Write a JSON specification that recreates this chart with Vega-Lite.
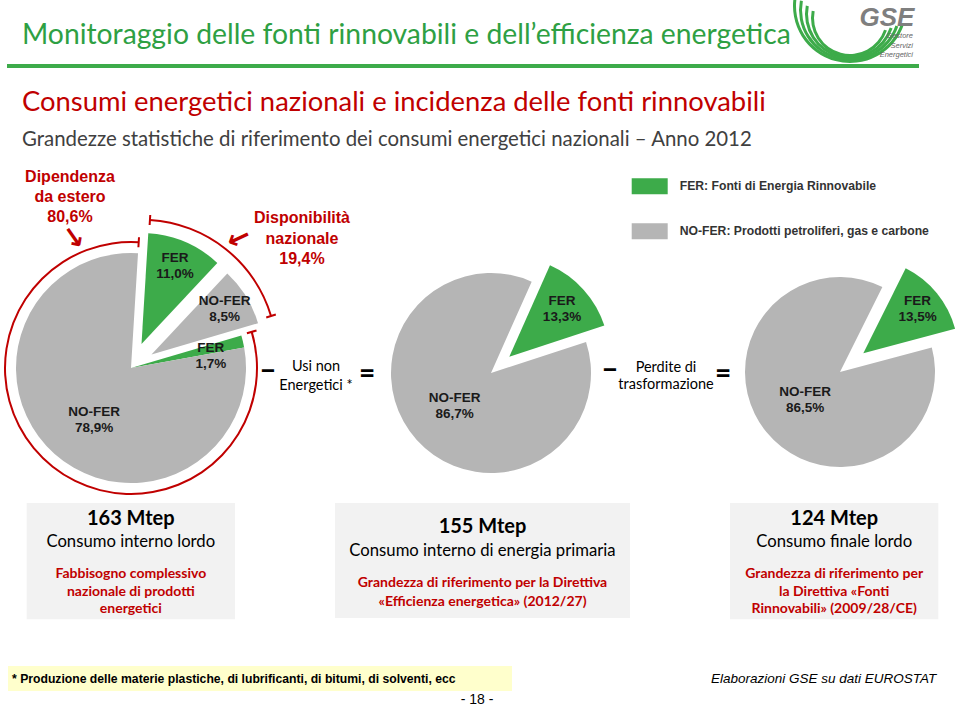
{
  "$schema": "https://vega.github.io/schema/vega-lite/v6.json",
  "width": 960,
  "height": 710,
  "autosize": {"type": "none"},
  "padding": 0,
  "background": "white",
  "config": {
    "view": {"stroke": null},
    "axis": {"disable": true},
    "text": {"font": "Liberation Sans"}
  },
  "datasets": {
    "torte": [
      {"torta": "lordo", "fonte": "FER", "provenienza": "nazionale", "quota": 11.0, "ordine": 1},
      {"torta": "lordo", "fonte": "NO-FER", "provenienza": "nazionale", "quota": 8.5, "ordine": 2},
      {"torta": "lordo", "fonte": "FER", "provenienza": "estero", "quota": 1.7, "ordine": 3},
      {"torta": "lordo", "fonte": "NO-FER", "provenienza": "estero", "quota": 78.9, "ordine": 4},
      {"torta": "primaria", "fonte": "FER", "provenienza": "", "quota": 13.3, "ordine": 1},
      {"torta": "primaria", "fonte": "NO-FER", "provenienza": "", "quota": 86.7, "ordine": 2},
      {"torta": "finale", "fonte": "FER", "provenienza": "", "quota": 13.5, "ordine": 1},
      {"torta": "finale", "fonte": "NO-FER", "provenienza": "", "quota": 86.5, "ordine": 2}
    ],
    "provenienza": [
      {"provenienza": "nazionale", "nome": "Disponibilità\nnazionale", "quota": 19.4, "ordine": 1},
      {"provenienza": "estero", "nome": "Dipendenza\nda estero", "quota": 80.6, "ordine": 2}
    ],
    "riquadri": [
      {"stadio": "lordo", "mtep": 163, "nome": "Consumo interno lordo", "nota": "Fabbisogno complessivo\nnazionale di prodotti\nenergetici"},
      {"stadio": "primaria", "mtep": 155, "nome": "Consumo interno di energia primaria", "nota": "Grandezza di riferimento per la Direttiva\n«Efficienza energetica» (2012/27)"},
      {"stadio": "finale", "mtep": 124, "nome": "Consumo finale lordo", "nota": "Grandezza di riferimento per\nla Direttiva «Fonti\nRinnovabili» (2009/28/CE)"}
    ]
  },
  "resolve": {"scale": {"theta": "independent"}},
  "layer": [
    {
      "data": {"values": [{}]},
      "layer": [
        {"mark": {"type": "text", "text": "Monitoraggio delle fonti rinnovabili e dell’efficienza energetica", "align": "left", "baseline": "middle", "font": "Lato", "fontSize": 28.3, "color": "#2ea043"},
         "encoding": {"x": {"datum": 22, "type": "quantitative", "scale": {"domain": [0, 960], "nice": false, "zero": false}}, "y": {"datum": 36, "type": "quantitative", "scale": {"domain": [0, 710], "reverse": true, "nice": false, "zero": false}}}},
        {"mark": {"type": "rule", "color": "#3dab4a", "strokeWidth": 4},
         "encoding": {"x": {"datum": 7, "type": "quantitative"}, "x2": {"datum": 919}, "y": {"datum": 66, "type": "quantitative"}}},
        {"mark": {"type": "arc", "innerRadius": 36, "outerRadius": 39, "theta": 1.9, "theta2": 4.9, "color": "#3dab4a"},
         "encoding": {"x": {"datum": 850, "type": "quantitative"}, "y": {"datum": 18, "type": "quantitative"}}},
        {"mark": {"type": "arc", "innerRadius": 42, "outerRadius": 45, "theta": 1.9, "theta2": 4.9, "color": "#3dab4a"},
         "encoding": {"x": {"datum": 850, "type": "quantitative"}, "y": {"datum": 14, "type": "quantitative"}}},
        {"mark": {"type": "arc", "innerRadius": 48, "outerRadius": 51, "theta": 1.9, "theta2": 4.9, "color": "#3dab4a"},
         "encoding": {"x": {"datum": 850, "type": "quantitative"}, "y": {"datum": 10, "type": "quantitative"}}},
        {"mark": {"type": "arc", "innerRadius": 54, "outerRadius": 57, "theta": 1.9, "theta2": 4.9, "color": "#3dab4a"},
         "encoding": {"x": {"datum": 850, "type": "quantitative"}, "y": {"datum": 6, "type": "quantitative"}}},
        {"mark": {"type": "text", "text": "GSE", "align": "center", "baseline": "middle", "font": "Liberation Sans", "fontWeight": "bold", "fontStyle": "italic", "fontSize": 26, "color": "#7f7f7f"},
         "encoding": {"x": {"datum": 887, "type": "quantitative"}, "y": {"datum": 18, "type": "quantitative"}}},
        {"mark": {"type": "text", "text": "Gestore\nServizi\nEnergetici", "lineBreak": "\n", "lineHeight": 9.5, "align": "right", "baseline": "middle", "font": "Liberation Sans", "fontStyle": "italic", "fontSize": 7.5, "color": "#666666"},
         "encoding": {"x": {"datum": 913, "type": "quantitative"}, "y": {"datum": 36, "type": "quantitative"}}},
        {"mark": {"type": "text", "text": "Consumi energetici nazionali e incidenza delle fonti rinnovabili", "align": "left", "baseline": "middle", "font": "Lato", "fontSize": 27.4, "color": "#c00000"},
         "encoding": {"x": {"datum": 22, "type": "quantitative"}, "y": {"datum": 103, "type": "quantitative"}}},
        {"mark": {"type": "text", "text": "Grandezze statistiche di riferimento dei consumi energetici nazionali – Anno 2012", "align": "left", "baseline": "middle", "font": "Lato", "fontSize": 20.4, "color": "#404040"},
         "encoding": {"x": {"datum": 22, "type": "quantitative"}, "y": {"datum": 140, "type": "quantitative"}}},
        {"mark": {"type": "text", "text": "–", "align": "center", "baseline": "middle", "font": "Lato", "fontWeight": "bold", "fontSize": 30, "color": "#000000"},
         "encoding": {"x": {"datum": 268, "type": "quantitative"}, "y": {"datum": 371, "type": "quantitative"}}},
        {"mark": {"type": "text", "text": "Usi non\nEnergetici *", "lineBreak": "\n", "lineHeight": 19, "align": "center", "baseline": "middle", "font": "Lato", "fontSize": 14.5, "color": "#000000"},
         "encoding": {"x": {"datum": 316, "type": "quantitative"}, "y": {"datum": 367, "type": "quantitative"}}},
        {"mark": {"type": "text", "text": "=", "align": "center", "baseline": "middle", "font": "Lato", "fontWeight": "bold", "fontSize": 28, "color": "#000000"},
         "encoding": {"x": {"datum": 367, "type": "quantitative"}, "y": {"datum": 375, "type": "quantitative"}}},
        {"mark": {"type": "text", "text": "–", "align": "center", "baseline": "middle", "font": "Lato", "fontWeight": "bold", "fontSize": 30, "color": "#000000"},
         "encoding": {"x": {"datum": 610, "type": "quantitative"}, "y": {"datum": 370, "type": "quantitative"}}},
        {"mark": {"type": "text", "text": "Perdite di\ntrasformazione", "lineBreak": "\n", "lineHeight": 17, "align": "center", "baseline": "middle", "font": "Lato", "fontSize": 14.5, "color": "#000000"},
         "encoding": {"x": {"datum": 666, "type": "quantitative"}, "y": {"datum": 368, "type": "quantitative"}}},
        {"mark": {"type": "text", "text": "=", "align": "center", "baseline": "middle", "font": "Lato", "fontWeight": "bold", "fontSize": 28, "color": "#000000"},
         "encoding": {"x": {"datum": 723, "type": "quantitative"}, "y": {"datum": 375, "type": "quantitative"}}},
        {"mark": {"type": "rect", "color": "#ffffcc"},
         "encoding": {"x": {"datum": 8, "type": "quantitative"}, "x2": {"datum": 512}, "y": {"datum": 666, "type": "quantitative"}, "y2": {"datum": 691}}},
        {"mark": {"type": "text", "text": "* Produzione delle materie plastiche, di lubrificanti, di bitumi, di solventi, ecc", "align": "left", "baseline": "middle", "font": "Liberation Sans", "fontWeight": "bold", "fontSize": 12.2, "color": "#000000"},
         "encoding": {"x": {"datum": 12, "type": "quantitative"}, "y": {"datum": 679, "type": "quantitative"}}},
        {"mark": {"type": "text", "text": "Elaborazioni GSE su dati EUROSTAT", "align": "left", "baseline": "middle", "font": "Liberation Sans", "fontStyle": "italic", "fontSize": 13.5, "color": "#000000"},
         "encoding": {"x": {"datum": 711, "type": "quantitative"}, "y": {"datum": 679, "type": "quantitative"}}},
        {"mark": {"type": "text", "text": "- 18 -", "align": "center", "baseline": "middle", "font": "Liberation Sans", "fontSize": 14, "color": "#000000"},
         "encoding": {"x": {"datum": 477, "type": "quantitative"}, "y": {"datum": 700, "type": "quantitative"}}}
      ]
    },
    {
      "data": {"name": "torte"},
      "transform": [
        {"stack": "quota", "groupby": ["torta"], "sort": [{"field": "ordine", "order": "ascending"}], "as": ["a0", "a1"]},
        {"calculate": "(datum.a0 + datum.a1) / 2", "as": "centro"},
        {"calculate": "datum.fonte + '\\n' + replace(format(datum.quota, '.1f'), '.', ',') + '%'", "as": "etichetta"}
      ],
      "resolve": {"scale": {"theta": "independent"}},
      "layer": [
        {"transform": [{"filter": "datum.torta == 'lordo' && datum.provenienza == 'estero'"}],
         "mark": {"type": "arc", "outerRadius": 115},
         "encoding": {
           "x": {"datum": 131, "type": "quantitative"}, "y": {"datum": 368, "type": "quantitative"},
           "theta": {"field": "a0", "type": "quantitative", "stack": null, "scale": {"domain": [0, 100.1], "range": [0.0611, 6.3443]}},
           "theta2": {"field": "a1"},
           "color": {"field": "fonte", "type": "nominal", "scale": {"domain": ["FER", "NO-FER"], "range": ["#3dab4a", "#b5b5b5"]},
             "legend": {"title": null, "orient": "none", "legendX": 631.7, "legendY": 168.3, "symbolType": "M-1,-0.444H1V0.444H-1Z", "symbolSize": 1296, "symbolStrokeWidth": 0, "symbolOpacity": 1, "labelFont": "Liberation Sans", "labelFontWeight": "bold", "labelFontSize": 12.2, "labelColor": "#333333", "labelOffset": 12, "rowPadding": 19, "labelLimit": 400,
               "labelExpr": "datum.label == 'FER' ? 'FER: Fonti di Energia Rinnovabile' : 'NO-FER: Prodotti petroliferi, gas e carbone'"}}
         }},
        {"transform": [{"filter": "datum.torta == 'lordo' && datum.ordine == 1"}],
         "mark": {"type": "arc", "outerRadius": 111, "xOffset": 10.5, "yOffset": -24},
         "encoding": {
           "x": {"datum": 131, "type": "quantitative"}, "y": {"datum": 368, "type": "quantitative"},
           "theta": {"field": "a0", "type": "quantitative", "stack": null, "scale": {"domain": [0, 100.1], "range": [0.0611, 6.3443]}},
           "theta2": {"field": "a1"},
           "color": {"field": "fonte", "type": "nominal"}
         }},
        {"transform": [{"filter": "datum.torta == 'lordo' && datum.ordine == 2"}],
         "mark": {"type": "arc", "outerRadius": 111, "xOffset": 20.5, "yOffset": -13.5},
         "encoding": {
           "x": {"datum": 131, "type": "quantitative"}, "y": {"datum": 368, "type": "quantitative"},
           "theta": {"field": "a0", "type": "quantitative", "stack": null, "scale": {"domain": [0, 100.1], "range": [0.0611, 6.3443]}},
           "theta2": {"field": "a1"},
           "color": {"field": "fonte", "type": "nominal"}
         }},
        {"transform": [{"filter": "datum.torta == 'primaria' && datum.fonte == 'NO-FER'"}],
         "mark": {"type": "arc", "outerRadius": 100},
         "encoding": {
           "x": {"datum": 491, "type": "quantitative"}, "y": {"datum": 373, "type": "quantitative"},
           "theta": {"field": "a0", "type": "quantitative", "stack": null, "scale": {"domain": [0, 100], "range": [0.4189, 6.7021]}},
           "theta2": {"field": "a1"},
           "color": {"field": "fonte", "type": "nominal"}
         }},
        {"transform": [{"filter": "datum.torta == 'primaria' && datum.fonte == 'FER'"}],
         "mark": {"type": "arc", "outerRadius": 100, "xOffset": 18.3, "yOffset": -16.3},
         "encoding": {
           "x": {"datum": 491, "type": "quantitative"}, "y": {"datum": 373, "type": "quantitative"},
           "theta": {"field": "a0", "type": "quantitative", "stack": null, "scale": {"domain": [0, 100], "range": [0.4189, 6.7021]}},
           "theta2": {"field": "a1"},
           "color": {"field": "fonte", "type": "nominal"}
         }},
        {"transform": [{"filter": "datum.torta == 'finale' && datum.fonte == 'NO-FER'"}],
         "mark": {"type": "arc", "outerRadius": 95},
         "encoding": {
           "x": {"datum": 840, "type": "quantitative"}, "y": {"datum": 372, "type": "quantitative"},
           "theta": {"field": "a0", "type": "quantitative", "stack": null, "scale": {"domain": [0, 100], "range": [0.4625, 6.7457]}},
           "theta2": {"field": "a1"},
           "color": {"field": "fonte", "type": "nominal"}
         }},
        {"transform": [{"filter": "datum.torta == 'finale' && datum.fonte == 'FER'"}],
         "mark": {"type": "arc", "outerRadius": 95, "xOffset": 23.3, "yOffset": -18.7},
         "encoding": {
           "x": {"datum": 840, "type": "quantitative"}, "y": {"datum": 372, "type": "quantitative"},
           "theta": {"field": "a0", "type": "quantitative", "stack": null, "scale": {"domain": [0, 100], "range": [0.4625, 6.7457]}},
           "theta2": {"field": "a1"},
           "color": {"field": "fonte", "type": "nominal"}
         }},
        {"transform": [{"filter": "datum.torta == 'lordo' && datum.ordine == 1"}],
         "mark": {"type": "text", "radius": 85, "xOffset": 10.5, "yOffset": -24, "dy": -8, "font": "Liberation Sans", "fontWeight": "bold", "fontSize": 13.5, "lineHeight": 16, "lineBreak": "\n", "align": "center", "baseline": "middle", "color": "#1a1a1a"},
         "encoding": {
           "x": {"datum": 131, "type": "quantitative"}, "y": {"datum": 368, "type": "quantitative"},
           "theta": {"field": "centro", "type": "quantitative", "stack": null, "scale": {"domain": [0, 100.1], "range": [0.0611, 6.3443]}},
           "text": {"field": "etichetta"}
         }},
        {"transform": [{"filter": "datum.torta == 'lordo' && datum.ordine == 2"}],
         "mark": {"type": "text", "radius": 86, "xOffset": 20.5, "yOffset": -13.5, "dy": -8, "font": "Liberation Sans", "fontWeight": "bold", "fontSize": 13.5, "lineHeight": 16, "lineBreak": "\n", "align": "center", "baseline": "middle", "color": "#1a1a1a"},
         "encoding": {
           "x": {"datum": 131, "type": "quantitative"}, "y": {"datum": 368, "type": "quantitative"},
           "theta": {"field": "centro", "type": "quantitative", "stack": null, "scale": {"domain": [0, 100.1], "range": [0.0611, 6.3443]}},
           "text": {"field": "etichetta"}
         }},
        {"transform": [{"filter": "datum.torta == 'lordo' && datum.ordine == 3"}],
         "mark": {"type": "text", "radius": 82, "dy": -1, "font": "Liberation Sans", "fontWeight": "bold", "fontSize": 13.5, "lineHeight": 16, "lineBreak": "\n", "align": "center", "baseline": "middle", "color": "#1a1a1a"},
         "encoding": {
           "x": {"datum": 131, "type": "quantitative"}, "y": {"datum": 368, "type": "quantitative"},
           "theta": {"field": "centro", "type": "quantitative", "stack": null, "scale": {"domain": [0, 100.1], "range": [0.0611, 6.3443]}},
           "text": {"field": "etichetta"}
         }},
        {"transform": [{"filter": "datum.torta == 'lordo' && datum.ordine == 4"}],
         "mark": {"type": "text", "radius": 63, "dx": 5, "dy": -3, "font": "Liberation Sans", "fontWeight": "bold", "fontSize": 13.5, "lineHeight": 16, "lineBreak": "\n", "align": "center", "baseline": "middle", "color": "#1a1a1a"},
         "encoding": {
           "x": {"datum": 131, "type": "quantitative"}, "y": {"datum": 368, "type": "quantitative"},
           "theta": {"field": "centro", "type": "quantitative", "stack": null, "scale": {"domain": [0, 100.1], "range": [0.0611, 6.3443]}},
           "text": {"field": "etichetta"}
         }},
        {"transform": [{"filter": "datum.torta == 'primaria' && datum.fonte == 'NO-FER'"}],
         "mark": {"type": "text", "radius": 49, "dy": -8, "font": "Liberation Sans", "fontWeight": "bold", "fontSize": 13.5, "lineHeight": 16, "lineBreak": "\n", "align": "center", "baseline": "middle", "color": "#1a1a1a"},
         "encoding": {
           "x": {"datum": 491, "type": "quantitative"}, "y": {"datum": 373, "type": "quantitative"},
           "theta": {"field": "centro", "type": "quantitative", "stack": null, "scale": {"domain": [0, 100], "range": [0.4189, 6.7021]}},
           "text": {"field": "etichetta"}
         }},
        {"transform": [{"filter": "datum.torta == 'primaria' && datum.fonte == 'FER'"}],
         "mark": {"type": "text", "radius": 71, "xOffset": 18.3, "yOffset": -16.3, "dy": -8, "font": "Liberation Sans", "fontWeight": "bold", "fontSize": 13.5, "lineHeight": 16, "lineBreak": "\n", "align": "center", "baseline": "middle", "color": "#1a1a1a"},
         "encoding": {
           "x": {"datum": 491, "type": "quantitative"}, "y": {"datum": 373, "type": "quantitative"},
           "theta": {"field": "centro", "type": "quantitative", "stack": null, "scale": {"domain": [0, 100], "range": [0.4189, 6.7021]}},
           "text": {"field": "etichetta"}
         }},
        {"transform": [{"filter": "datum.torta == 'finale' && datum.fonte == 'NO-FER'"}],
         "mark": {"type": "text", "radius": 45, "dy": -8, "font": "Liberation Sans", "fontWeight": "bold", "fontSize": 13.5, "lineHeight": 16, "lineBreak": "\n", "align": "center", "baseline": "middle", "color": "#1a1a1a"},
         "encoding": {
           "x": {"datum": 840, "type": "quantitative"}, "y": {"datum": 372, "type": "quantitative"},
           "theta": {"field": "centro", "type": "quantitative", "stack": null, "scale": {"domain": [0, 100], "range": [0.4625, 6.7457]}},
           "text": {"field": "etichetta"}
         }},
        {"transform": [{"filter": "datum.torta == 'finale' && datum.fonte == 'FER'"}],
         "mark": {"type": "text", "radius": 70, "xOffset": 23.3, "yOffset": -18.7, "dy": -8, "font": "Liberation Sans", "fontWeight": "bold", "fontSize": 13.5, "lineHeight": 16, "lineBreak": "\n", "align": "center", "baseline": "middle", "color": "#1a1a1a"},
         "encoding": {
           "x": {"datum": 840, "type": "quantitative"}, "y": {"datum": 372, "type": "quantitative"},
           "theta": {"field": "centro", "type": "quantitative", "stack": null, "scale": {"domain": [0, 100], "range": [0.4625, 6.7457]}},
           "text": {"field": "etichetta"}
         }}
      ]
    },
    {
      "data": {"name": "provenienza"},
      "transform": [
        {"stack": "quota", "groupby": [], "sort": [{"field": "ordine", "order": "ascending"}], "as": ["b0", "b1"]},
        {"calculate": "datum.nome + '\\n' + replace(format(datum.quota, '.1f'), '.', ',') + '%'", "as": "etichetta"}
      ],
      "resolve": {"scale": {"theta": "independent"}},
      "layer": [
        {"transform": [{"filter": "datum.provenienza == 'estero'"}],
         "mark": {"type": "arc", "innerRadius": 125, "outerRadius": 127, "color": "#c00000"},
         "encoding": {
           "x": {"datum": 131, "type": "quantitative"}, "y": {"datum": 368, "type": "quantitative"},
           "theta": {"field": "b0", "type": "quantitative", "stack": null, "scale": {"domain": [0, 100], "range": [0.0611, 6.3443]}},
           "theta2": {"field": "b1"}
         }},
        {"transform": [{"filter": "datum.provenienza == 'estero'"}, {"fold": ["b0", "b1"], "as": ["estremo", "angolo"]}],
         "mark": {"type": "arc", "innerRadius": 121, "outerRadius": 131, "filled": false, "color": "#c00000", "strokeWidth": 2},
         "encoding": {
           "x": {"datum": 131, "type": "quantitative"}, "y": {"datum": 368, "type": "quantitative"},
           "theta": {"field": "angolo", "type": "quantitative", "stack": null, "scale": {"domain": [0, 100], "range": [0.0611, 6.3443]}},
           "theta2": {"field": "angolo"}
         }},
        {"transform": [{"filter": "datum.provenienza == 'nazionale'"}],
         "mark": {"type": "arc", "innerRadius": 134, "outerRadius": 136, "xOffset": 10.7, "yOffset": -13.3, "color": "#c00000"},
         "encoding": {
           "x": {"datum": 131, "type": "quantitative"}, "y": {"datum": 368, "type": "quantitative"},
           "theta": {"field": "b0", "type": "quantitative", "stack": null, "scale": {"domain": [0, 100], "range": [0.0611, 6.3443]}},
           "theta2": {"field": "b1"}
         }},
        {"transform": [{"filter": "datum.provenienza == 'nazionale'"}, {"fold": ["b0", "b1"], "as": ["estremo", "angolo"]}],
         "mark": {"type": "arc", "innerRadius": 130, "outerRadius": 140, "xOffset": 10.7, "yOffset": -13.3, "filled": false, "color": "#c00000", "strokeWidth": 2},
         "encoding": {
           "x": {"datum": 131, "type": "quantitative"}, "y": {"datum": 368, "type": "quantitative"},
           "theta": {"field": "angolo", "type": "quantitative", "stack": null, "scale": {"domain": [0, 100], "range": [0.0611, 6.3443]}},
           "theta2": {"field": "angolo"}
         }},
        {"transform": [{"filter": "datum.provenienza == 'estero'"}],
         "mark": {"type": "text", "font": "Liberation Sans", "fontWeight": "bold", "fontSize": 16, "lineHeight": 20, "lineBreak": "\n", "align": "center", "baseline": "middle", "color": "#c00000"},
         "encoding": {"x": {"datum": 70, "type": "quantitative"}, "y": {"datum": 177, "type": "quantitative"}, "text": {"field": "etichetta"}}},
        {"transform": [{"filter": "datum.provenienza == 'nazionale'"}],
         "mark": {"type": "text", "font": "Liberation Sans", "fontWeight": "bold", "fontSize": 16, "lineHeight": 20.5, "lineBreak": "\n", "align": "center", "baseline": "middle", "color": "#c00000"},
         "encoding": {"x": {"datum": 302, "type": "quantitative"}, "y": {"datum": 218, "type": "quantitative"}, "text": {"field": "etichetta"}}},
        {"transform": [{"filter": "datum.provenienza == 'estero'"}],
         "mark": {"type": "text", "text": "↘", "angle": 10, "font": "DejaVu Sans", "fontWeight": "bold", "fontSize": 28, "align": "center", "baseline": "middle", "color": "#c00000"},
         "encoding": {"x": {"datum": 73, "type": "quantitative"}, "y": {"datum": 239, "type": "quantitative"}}},
        {"transform": [{"filter": "datum.provenienza == 'nazionale'"}],
         "mark": {"type": "text", "text": "↙", "angle": 20, "font": "DejaVu Sans", "fontWeight": "bold", "fontSize": 28, "align": "center", "baseline": "middle", "color": "#c00000"},
         "encoding": {"x": {"datum": 238, "type": "quantitative"}, "y": {"datum": 240, "type": "quantitative"}}}
      ]
    },
    {
      "data": {"name": "riquadri"},
      "transform": [{"calculate": "datum.mtep + ' Mtep'", "as": "quantita"}],
      "layer": [
        {"transform": [{"filter": "datum.stadio == 'lordo'"}], "mark": {"type": "rect", "color": "#f2f2f2"},
         "encoding": {"x": {"datum": 26.7, "type": "quantitative"}, "x2": {"datum": 235}, "y": {"datum": 503, "type": "quantitative"}, "y2": {"datum": 619.3}}},
        {"transform": [{"filter": "datum.stadio == 'primaria'"}], "mark": {"type": "rect", "color": "#f2f2f2"},
         "encoding": {"x": {"datum": 335, "type": "quantitative"}, "x2": {"datum": 630}, "y": {"datum": 503, "type": "quantitative"}, "y2": {"datum": 618}}},
        {"transform": [{"filter": "datum.stadio == 'finale'"}], "mark": {"type": "rect", "color": "#f2f2f2"},
         "encoding": {"x": {"datum": 730, "type": "quantitative"}, "x2": {"datum": 938.3}, "y": {"datum": 503, "type": "quantitative"}, "y2": {"datum": 619.3}}},
        {"transform": [{"filter": "datum.stadio == 'lordo'"}], "mark": {"type": "text", "font": "Lato", "fontWeight": "bold", "fontSize": 20, "align": "center", "baseline": "middle", "color": "#000000"},
         "encoding": {"x": {"datum": 130.8, "type": "quantitative"}, "y": {"datum": 519.3, "type": "quantitative"}, "text": {"field": "quantita"}}},
        {"transform": [{"filter": "datum.stadio == 'lordo'"}], "mark": {"type": "text", "font": "Lato", "fontSize": 16.7, "align": "center", "baseline": "middle", "color": "#000000"},
         "encoding": {"x": {"datum": 130.8, "type": "quantitative"}, "y": {"datum": 541.7, "type": "quantitative"}, "text": {"field": "nome"}}},
        {"transform": [{"filter": "datum.stadio == 'lordo'"}], "mark": {"type": "text", "font": "Lato", "fontWeight": "bold", "fontSize": 14, "lineHeight": 17.5, "lineBreak": "\n", "align": "center", "baseline": "middle", "color": "#c00000"},
         "encoding": {"x": {"datum": 130.8, "type": "quantitative"}, "y": {"datum": 574.3, "type": "quantitative"}, "text": {"field": "nota"}}},
        {"transform": [{"filter": "datum.stadio == 'primaria'"}], "mark": {"type": "text", "font": "Lato", "fontWeight": "bold", "fontSize": 20, "align": "center", "baseline": "middle", "color": "#000000"},
         "encoding": {"x": {"datum": 482.5, "type": "quantitative"}, "y": {"datum": 526.7, "type": "quantitative"}, "text": {"field": "quantita"}}},
        {"transform": [{"filter": "datum.stadio == 'primaria'"}], "mark": {"type": "text", "font": "Lato", "fontSize": 16.7, "align": "center", "baseline": "middle", "color": "#000000"},
         "encoding": {"x": {"datum": 482.5, "type": "quantitative"}, "y": {"datum": 551, "type": "quantitative"}, "text": {"field": "nome"}}},
        {"transform": [{"filter": "datum.stadio == 'primaria'"}], "mark": {"type": "text", "font": "Lato", "fontWeight": "bold", "fontSize": 14, "lineHeight": 18.4, "lineBreak": "\n", "align": "center", "baseline": "middle", "color": "#c00000"},
         "encoding": {"x": {"datum": 482.5, "type": "quantitative"}, "y": {"datum": 583.3, "type": "quantitative"}, "text": {"field": "nota"}}},
        {"transform": [{"filter": "datum.stadio == 'finale'"}], "mark": {"type": "text", "font": "Lato", "fontWeight": "bold", "fontSize": 20, "align": "center", "baseline": "middle", "color": "#000000"},
         "encoding": {"x": {"datum": 834.2, "type": "quantitative"}, "y": {"datum": 519.3, "type": "quantitative"}, "text": {"field": "quantita"}}},
        {"transform": [{"filter": "datum.stadio == 'finale'"}], "mark": {"type": "text", "font": "Lato", "fontSize": 16.7, "align": "center", "baseline": "middle", "color": "#000000"},
         "encoding": {"x": {"datum": 834.2, "type": "quantitative"}, "y": {"datum": 541.7, "type": "quantitative"}, "text": {"field": "nome"}}},
        {"transform": [{"filter": "datum.stadio == 'finale'"}], "mark": {"type": "text", "font": "Lato", "fontWeight": "bold", "fontSize": 14, "lineHeight": 17.5, "lineBreak": "\n", "align": "center", "baseline": "middle", "color": "#c00000"},
         "encoding": {"x": {"datum": 834.2, "type": "quantitative"}, "y": {"datum": 574.3, "type": "quantitative"}, "text": {"field": "nota"}}}
      ]
    }
  ]
}
